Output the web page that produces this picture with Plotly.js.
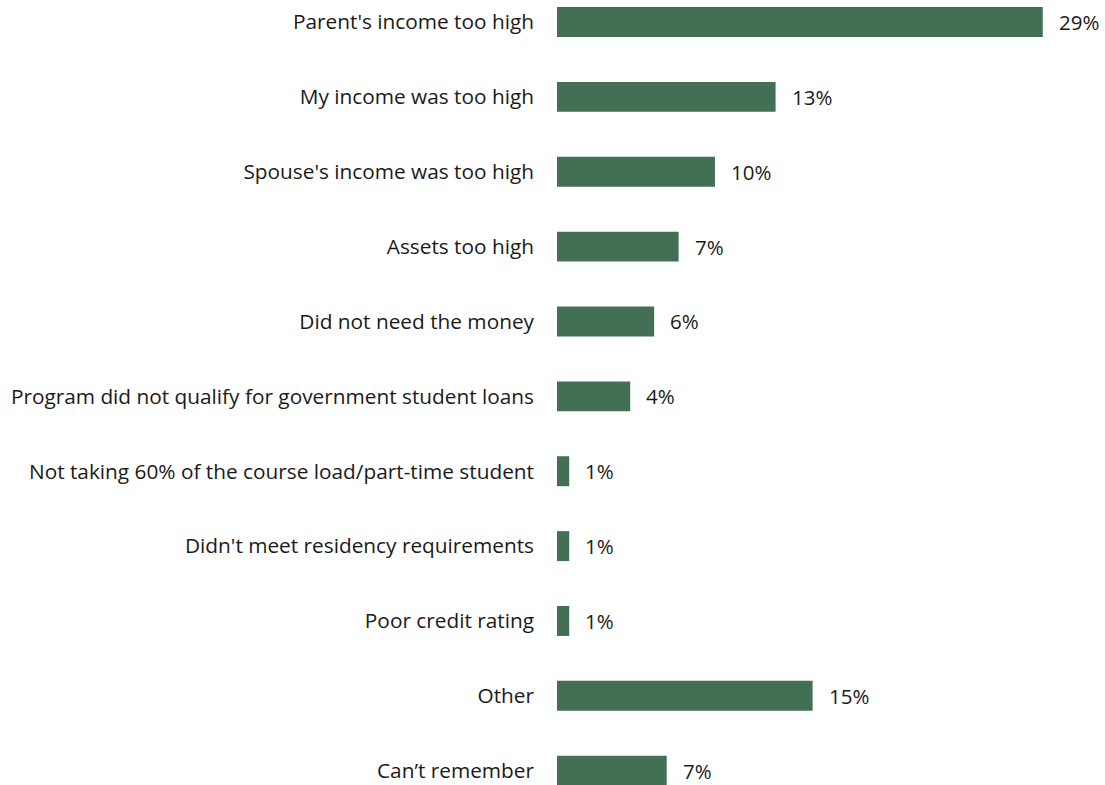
<!DOCTYPE html>
<html>
<head>
<meta charset="utf-8">
<script src="https://cdn.plot.ly/plotly-3.0.1.min.js"></script>
<style>html,body{margin:0;padding:0;background:#fff;}#chart{width:1105px;height:785px;}</style>
</head>
<body>
<div id="chart"></div>
<script>
var categories = [
  "Parent's income too high",
  "My income was too high",
  "Spouse's income was too high",
  "Assets too high",
  "Did not need the money",
  "Program did not qualify for government student loans",
  "Not taking 60% of the course load/part-time student",
  "Didn't meet residency requirements",
  "Poor credit rating",
  "Other",
  "Can\u2019t remember"
];
var values = [29.0, 13.05, 9.43, 7.26, 5.8, 4.37, 0.73, 0.73, 0.73, 15.26, 6.55];
var valueLabels = ["29%", "13%", "10%", "7%", "6%", "4%", "1%", "1%", "1%", "15%", "7%"];

var FONT = "'Open Sans', 'Noto Sans', sans-serif";
var trace = {
  type: 'bar',
  orientation: 'h',
  x: values,
  y: categories,
  marker: {color: '#437054'},
  hoverinfo: 'none'
};
var annotations = categories.map(function (c, i) {
  return {
    x: values[i], y: c, xref: 'x', yref: 'y',
    text: valueLabels[i], showarrow: false,
    xanchor: 'left', yanchor: 'middle', xshift: 14,
    font: {family: FONT, size: 20.5, color: '#1a1a1a'}
  };
});
var layout = {
  width: 1105, height: 785,
  margin: {l: 557, r: 12, t: 0, b: 0, pad: 0},
  paper_bgcolor: '#fff', plot_bgcolor: '#fff',
  showlegend: false,
  bargap: 0.6,
  xaxis: {range: [0, 32], visible: false, fixedrange: true},
  yaxis: {
    type: 'category',
    range: [10.191, -0.294],
    showgrid: false, zeroline: false, showline: false, ticks: '',
    ticklabelstandoff: 22,
    tickfont: {family: FONT, size: 20.8, color: '#1a1a1a'}
  },
  annotations: annotations
};
Plotly.newPlot('chart', [trace], layout, {staticPlot: true, displayModeBar: false});
</script>
</body>
</html>
